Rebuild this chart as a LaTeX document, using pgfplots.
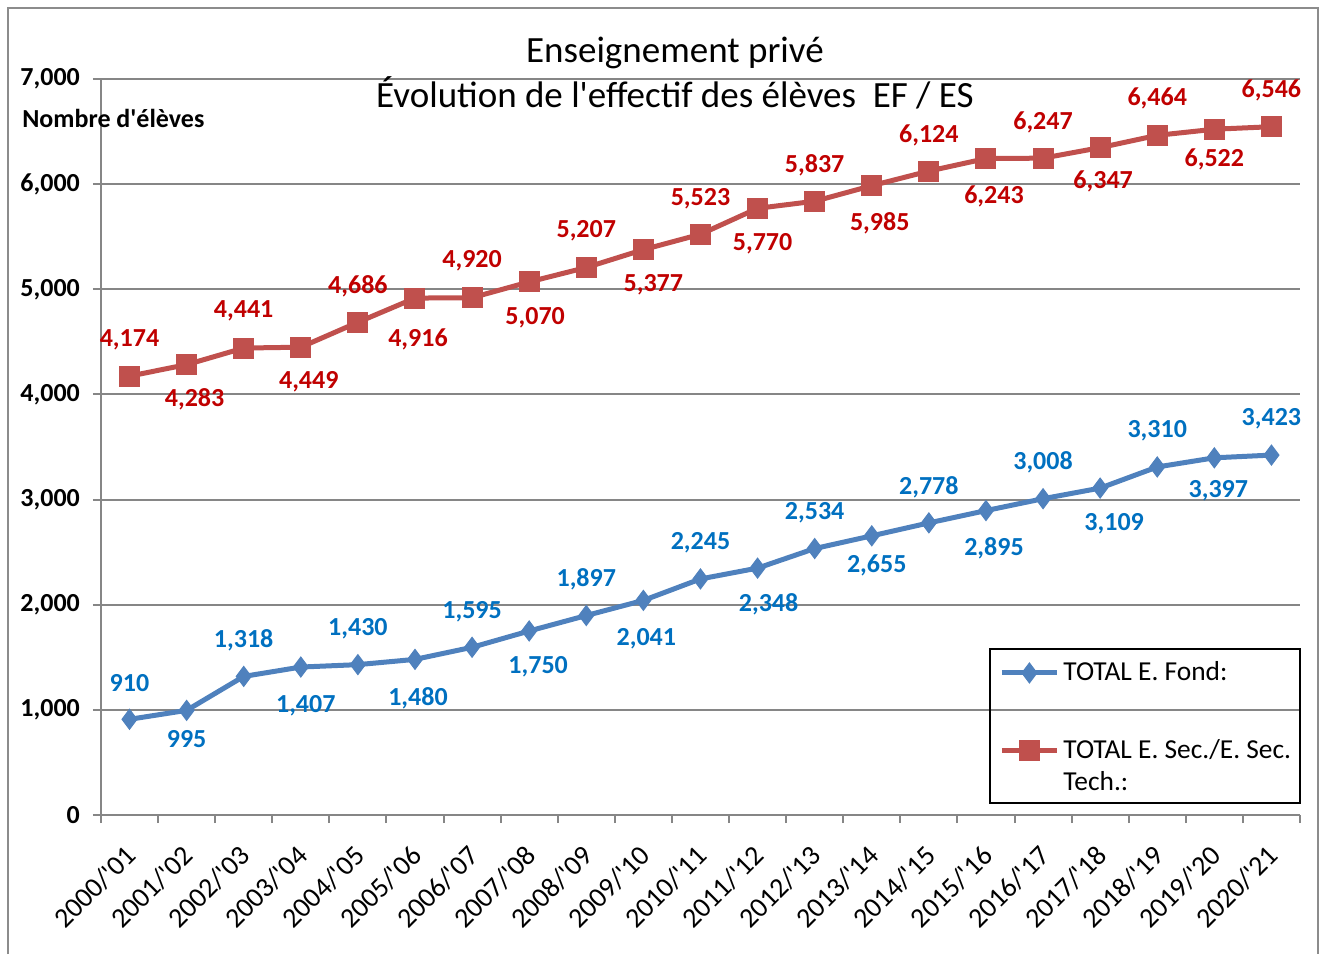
\documentclass[border=0pt]{standalone}
\usepackage{fontspec}
\setmainfont{Carlito}
\newfontfamily\plainfont{Carlito}
\newcommand\ap{{\plainfont\symbol{39}}}
\usepackage{pgfplots}
\pgfplotsset{compat=1.18}
\definecolor{lineblue}{HTML}{4F81BD}
\definecolor{linered}{HTML}{C0504D}
\definecolor{lblblue}{HTML}{0070C0}
\definecolor{lblred}{HTML}{C00000}
\definecolor{gridgray}{HTML}{868686}
\definecolor{framegray}{HTML}{8C8C8C}
\newcommand\lbl{\fontsize{13}{15.6}\selectfont}

\pgfplotsset{
  fondline/.style={color=lineblue, line width=2.5pt, mark=diamond*, mark size=5pt,
    mark options={solid, fill=lineblue, draw=lineblue, line width=0.5pt}},
  secline/.style={color=linered, line width=2.5pt, mark=square*, mark size=5pt,
    mark options={solid, fill=linered, draw=linered, line width=0.5pt}},
  vlabels/.style={nodes near coords,
    visualization depends on={value \thisrow{dy} \as \mydy},
    visualization depends on={value \thisrow{dx} \as \mydx},
    every node near coord/.append style={anchor=center, xshift=\mydx, yshift=\mydy, font=\lbl\bfseries, text=#1}},
}

\begin{document}
\begin{tikzpicture}
\begin{axis}[
  scale only axis, width=599.5pt, height=368pt,
  xmin=-0.5, xmax=20.5, ymin=0, ymax=7000,
  clip=false,
  axis x line*=bottom, axis y line*=left,
  axis line style={draw=gridgray, line width=1pt},
  tick align=outside, major tick length=4pt,
  tick style={draw=gridgray, line width=1pt},
  ytick={0,1000,...,7000},
  scaled y ticks=false,
  ymajorgrids, grid style={draw=gridgray, line width=1pt},
  /pgf/number format/1000 sep={,},
  /pgf/number format/assume math mode=true,
  yticklabel style={font=\lbl\bfseries, xshift=-3pt},
  xtick={-0.5,0.5,...,20.5}, xticklabels={},
  extra x ticks={0,1,...,20},
  extra x tick labels={2000/\ap01,2001/\ap02,2002/\ap03,2003/\ap04,2004/\ap05,2005/\ap06,2006/\ap07,2007/\ap08,2008/\ap09,2009/\ap10,2010/\ap11,2011/\ap12,2012/\ap13,2013/\ap14,2014/\ap15,2015/\ap16,2016/\ap17,2017/\ap18,2018/\ap19,2019/\ap20,2020/\ap21},
  extra x tick style={major tick length=0pt, xticklabel style={xshift=3.4pt, yshift=-15.6pt, rotate=45, anchor=east, font=\fontsize{14}{16.8}\selectfont}},
  title={Enseignement privé\\Évolution de l\ap effectif des élèves\ \ EF / ES},
  title style={at={(0.4787,0.9911)}, anchor=center, align=center, font=\fontsize{18.5}{22.5}\selectfont},
  legend style={at={(0.7415,0.2255)}, anchor=north west, draw=none, fill=none,
    font=\fontsize{13.7}{16}\selectfont, row sep=24pt, inner sep=0pt,
    nodes={inner sep=2pt}, xshift=4.5pt, yshift=-4.25pt},
  legend cell align=left,
  legend image code/.code={\draw[mark repeat=2, mark phase=2] plot coordinates {(0pt,0pt)(13.75pt,0pt)(27.5pt,0pt)};},
]
% x = school year index, dy/dx = label offset (pt)
\addplot[fondline, vlabels=lblblue, forget plot] table[x=x, y=y] {
x y dy dx
0 910 18 0
1 995 -14.5 0
2 1318 18 0
3 1407 -19.5 2.5
4 1430 18 0
5 1480 -19.3 1.5
6 1595 18 0
7 1750 -18 4.5
8 1897 18 0
9 2041 -19.3 1.5
10 2245 18 0
11 2348 -18 5.5
12 2534 18 0
13 2655 -15 2.5
14 2778 18 0
15 2895 -19 4
16 3008 18 0
17 3109 -18 7
18 3310 18 0
19 3397 -16.6 2
20 3423 18 0
};
\addplot[secline, vlabels=lblred, forget plot] table[x=x, y=y] {
x y dy dx
0 4174 18 0
1 4283 -17.5 4
2 4441 18.5 0
3 4449 -17.5 4
4 4686 18 0
5 4916 -20.5 1.5
6 4920 18.3 0
7 5070 -18 3
8 5207 18.3 0
9 5377 -17.6 5
10 5523 18 0
11 5770 -17.8 2.5
12 5837 18 0
13 5985 -19 4
14 6124 18 0
15 6243 -19 4
16 6247 18 0
17 6347 -16.7 1.5
18 6464 18.7 0
19 6522 -15 0
20 6546 18.4 0
};
\addlegendimage{fondline}
\addlegendentry{TOTAL E. Fond:}
\addlegendimage{secline}
\addlegendentry{\parbox[t]{120pt}{TOTAL E. Sec./E. Sec.\\Tech.:}}
\draw[black, line width=1pt] (rel axis cs:0.7415,0.0163) rectangle (rel axis cs:1,0.2255);
\node[anchor=west, font=\lbl\bfseries, inner sep=0pt] at (rel axis cs:-0.0659,0.947) {Nombre d\ap élèves};
\draw[framegray, line width=1pt] (rel axis cs:-0.0776,-0.1889) -- (rel axis cs:-0.0776,1.0965) -- (rel axis cs:1.015,1.0965) -- (rel axis cs:1.015,-0.1889);
\path (rel axis cs:-0.0842,-0.1889) rectangle (rel axis cs:1.0192,1.1073);
\end{axis}
\end{tikzpicture}
\end{document}
